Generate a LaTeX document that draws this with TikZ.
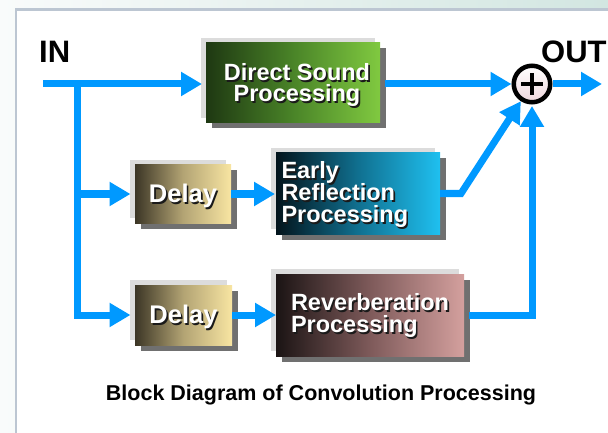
\documentclass[tikz,border=0pt]{standalone}
\usepackage{fontspec}
\setmainfont{Liberation Sans}
\usetikzlibrary{arrows.meta,shadows}
\definecolor{flowblue}{HTML}{0099FF}
\definecolor{framegray}{HTML}{DCDCDC}
\definecolor{shadegray}{HTML}{707070}
\definecolor{tshadow}{HTML}{1A1A1A}
\definecolor{panelborder}{HTML}{BCC6D2}
\definecolor{bgleft}{HTML}{F9FBFB}
\definecolor{bgright}{HTML}{D2E6E1}
\definecolor{dsL}{HTML}{1E3812}
\definecolor{dsM}{HTML}{4A8428}
\definecolor{dsR}{HTML}{80C940}
\definecolor{dlL}{HTML}{3C3626}
\definecolor{dlM}{HTML}{B3A474}
\definecolor{dlR}{HTML}{F8E5A2}
\definecolor{erL}{HTML}{03141C}
\definecolor{erM}{HTML}{107090}
\definecolor{erR}{HTML}{1FC0F0}
\definecolor{rvL}{HTML}{1B1414}
\definecolor{rvM}{HTML}{7E5A5A}
\definecolor{rvR}{HTML}{D4A09E}
\definecolor{sumpink}{HTML}{EED6DC}
\newcommand{\rowstrut}{\vrule height .75em depth .25em width 0pt}
\newcommand{\shadowit}[1]{\rlap{\raisebox{-1.6pt}[0pt][0pt]{\hspace{1.6pt}\textcolor{tshadow}{\copy#1}}}\textcolor{white}{\box#1}}
\newcommand{\shc}[2]{\raisebox{#1}[\height][\depth]{\setbox0=\vbox{\lineskiplimit=-\maxdimen\lineskip=0pt\halign{\hfil\rowstrut##\hfil\cr#2\crcr}}\shadowit{0}}}
\newcommand{\shl}[2]{\raisebox{#1}[\height][\depth]{\setbox0=\vbox{\lineskiplimit=-\maxdimen\lineskip=0pt\halign{\rowstrut##\hfil\cr#2\crcr}}\shadowit{0}}}
\tikzset{
  blockbox/.style={rectangle, inner sep=0pt, outer sep=0pt},
  framed/.style={general shadow={fill=framegray, shadow xshift=-5pt, shadow yshift=5pt},
                 general shadow={fill=shadegray, shadow xshift=6pt, shadow yshift=-5.5pt}},
  boxfont/.style={font=\bfseries\fontsize{23.5}{21}\selectfont},
  boxfontb/.style={font=\bfseries\fontsize{23.5}{22}\selectfont},
  delayfont/.style={font=\bfseries\fontsize{25.5}{27}\selectfont},
  flow/.style={draw=flowblue, line width=7pt, -{Triangle[length=21pt,width=23pt]}},
  sumnode/.style={circle, draw=black, line width=4.5pt, minimum size=36.5pt, inner sep=0pt,
    top color=white, bottom color=sumpink,
    path picture={\draw[black, line width=4.3pt]
      ([xshift=-11pt]path picture bounding box.center) -- ([xshift=11pt]path picture bounding box.center)
      ([yshift=-11pt]path picture bounding box.center) -- ([yshift=11pt]path picture bounding box.center);}},
  lbl/.style={inner sep=0pt, anchor=base west, font=\bfseries\fontsize{31}{31}\selectfont},
}
\begin{document}
\begin{tikzpicture}[x=1pt, y=-1pt, line join=miter]
\useasboundingbox (0,0) rectangle (608,433);
\clip (0,0) rectangle (608,433);
\shade[left color=bgleft, right color=bgright] (0,0) rectangle (608,433);
\filldraw[fill=white, draw=panelborder, line width=2.6pt] (16,9.4) rectangle (640,460);

\node[blockbox, framed, boxfont, minimum width=174pt, minimum height=80pt,
  left color=dsL, right color=dsR, middle color=dsM] (direct) at (293,83)
  {\makebox[174pt]{\hspace{8pt}\shc{-2.6pt}{Direct Sound\cr Processing}}};
\node[blockbox, framed, delayfont, minimum width=96pt, minimum height=58pt,
  left color=dlL, right color=dlR, middle color=dlM] (delay1) at (183,194)
  {\shc{-2.6pt}{Delay}};
\node[blockbox, framed, boxfontb, minimum width=164pt, minimum height=81pt,
  left color=erL, right color=erR, middle color=erM] (er) at (358,193.5)
  {\makebox[164pt][l]{\hspace{5.5pt}\shl{-1.6pt}{Early\cr Reflection\cr Processing}}};
\node[blockbox, framed, delayfont, minimum width=97pt, minimum height=60pt,
  left color=dlL, right color=dlR, middle color=dlM] (delay2) at (183.5,315)
  {\shc{-2.6pt}{Delay}};
\node[blockbox, framed, boxfontb, minimum width=188pt, minimum height=82pt,
  left color=rvL, right color=rvR, middle color=rvM] (rev) at (370,315)
  {\makebox[188pt][l]{\hspace{15pt}\shl{-1.1pt}{Reverberation\cr Processing}}};
\node[sumnode] (sum) at (532,84) {};
\node[lbl] (inlbl) at (39,63) {IN};
\node[lbl] (outlbl) at (541,63) {OUT};
\node[inner sep=0pt, font=\bfseries\fontsize{21.5}{24}\selectfont] (cap) at (321,395)
  {Block Diagram of Convolution Processing};

\coordinate (inpt) at (43,84);
\coordinate (br) at (77,84);
\coordinate (outpt) at (602,84);

\draw[flow, shorten >=4pt] (inpt) -- (inpt -| direct.west);
\draw[flow, shorten >=4.5pt] (br) |- (delay2.west);
\draw[flow, shorten >=4.5pt] (br |- delay1.west) -- (delay1.west);
\draw[flow, shorten >=1pt] (delay1.east) -- (delay1.east -| er.west);
\draw[flow] (delay2.east) -- (delay2.east -| rev.west);
\draw[flow] ([xshift=5pt]direct.east |- sum) -- (sum.west);
\draw[flow] (er.east) -- ++(21,0) -- (sum);
\draw[flow, shorten >=1.5pt] ([xshift=5pt]rev.east) -| (sum.south);
\draw[flow] (sum.east) -- (outpt);
\end{tikzpicture}
\end{document}
